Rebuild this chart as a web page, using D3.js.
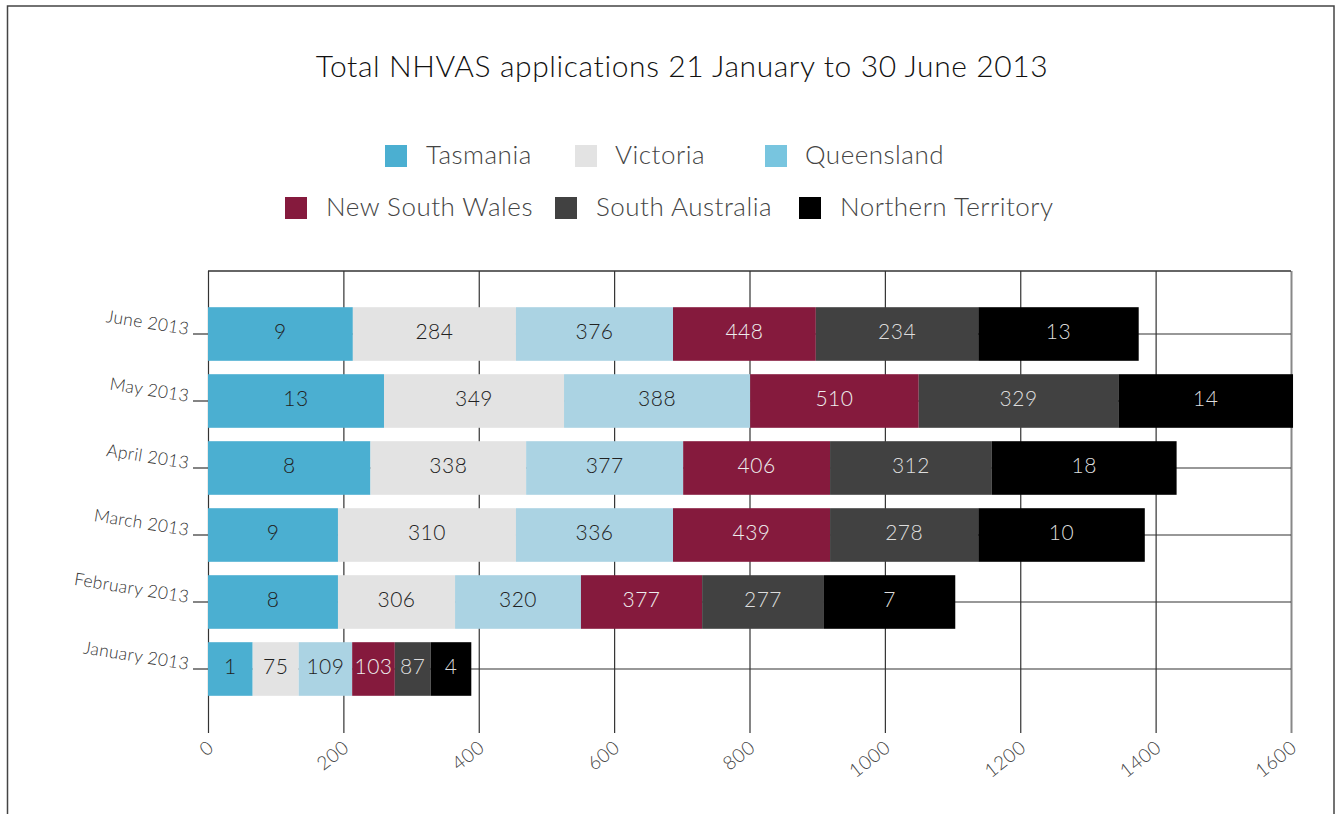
<html>
<head>
    <script src="https://d3js.org/d3.v7.min.js"></script>
    <style>
        body {
            margin: 0;
            background: #fff;
            font-family: Lato, "Open Sans", sans-serif;
        }

        text {
            font-weight: 300;
        }

        .gridlines line {
            stroke: #333;
            stroke-width: 1.2;
        }
    </style>
</head>

<body>
    <svg width="1340" height="814"></svg>
    <script>

        // months from bottom to top
        const months = ["January 2013", "February 2013", "March 2013", "April 2013", "May 2013", "June 2013"];
        const states = ["Tasmania", "Victoria", "Queensland", "New South Wales", "South Australia", "Northern Territory"];

        // segment lengths as drawn on the x axis (Jan -> Jun)
        const tasmaniaLen = [66, 192, 192, 240, 260, 214];
        const victoriaLen = [68, 173, 263, 230, 266, 241];
        const queenslandLen = [79, 186, 232, 232, 275, 232];
        const nswLen = [63, 179, 232, 217, 249, 211];
        const saLen = [53, 180, 219, 239, 295, 240];
        const ntLen = [60, 194, 246, 273, 258, 237];

        // numbers printed inside the segments (Jan -> Jun)
        const tasmaniaLabel = [1, 8, 9, 8, 13, 9];
        const victoriaLabel = [75, 306, 310, 338, 349, 284];
        const queenslandLabel = [109, 320, 336, 377, 388, 376];
        const nswLabel = [103, 377, 439, 406, 510, 448];
        const saLabel = [87, 277, 278, 312, 329, 234];
        const ntLabel = [4, 7, 10, 18, 14, 13];

        const xTicks = [0, 200, 400, 600, 800, 1000, 1200, 1400, 1600];

        const barColors = ["#4BAFD1", "#E3E3E3", "#ABD3E3", "#851A3D", "#414141", "#000000"];
        const legendColors = ["#4BAFD1", "#E3E3E3", "#78C5DF", "#851A3D", "#414141", "#000000"];
        const textColors = ["#222", "#222", "#222", "#eee", "#ddd", "#ddd"];

        const lengths = [tasmaniaLen, victoriaLen, queenslandLen, nswLen, saLen, ntLen];
        const labels = [tasmaniaLabel, victoriaLabel, queenslandLabel, nswLabel, saLabel, ntLabel];

        const svg = d3.select("svg");

        // outer frame
        svg.append("rect")
            .attr("x", 7.5).attr("y", 6).attr("width", 1326.5).attr("height", 830)
            .attr("fill", "none").attr("stroke", "#444").attr("stroke-width", 1.5);

        // title
        svg.append("text")
            .attr("x", 682).attr("y", 77)
            .attr("text-anchor", "middle")
            .style("font-size", "30px").style("letter-spacing", "0.6px").style("fill", "#111")
            .text("Total NHVAS applications 21 January to 30 June 2013");

        // scales
        const xScale = d3.scaleLinear().domain([0, 1600]).range([208, 1291]);
        const yScale = d3.scaleBand()
            .domain(months.slice().reverse())
            .range([300.5, 702.5])
            .paddingInner(0.2)
            .paddingOuter(0.1);

        const chartTop = 271;
        const chartBottom = 733;

        // vertical gridlines
        svg.append("g")
            .attr("class", "gridlines")
            .attr("transform", `translate(0, ${chartTop})`)
            .call(d3.axisBottom(xScale).tickValues(xTicks).tickSize(chartBottom - chartTop).tickFormat(""))
            .call(g => g.select(".domain").remove())
            .call(g => g.selectAll(".tick line").filter(d => d === 1600).style("stroke", "#888").style("stroke-width", 2));

        // top border of plot
        svg.append("line")
            .attr("x1", xScale(0)).attr("x2", xScale(1600))
            .attr("y1", chartTop).attr("y2", chartTop)
            .attr("stroke", "#333").attr("stroke-width", 1.5);

        // horizontal gridlines through each row
        svg.append("g")
            .attr("class", "gridlines")
            .attr("transform", `translate(${xScale(0)}, 0)`)
            .call(d3.axisLeft(yScale).tickSize(15).tickFormat(""))
            .call(g => g.select(".domain").remove())
            .call(g => g.selectAll(".tick line").clone().attr("x1", 0).attr("x2", xScale(1600) - xScale(0)));

        // month labels, slightly tilted
        svg.append("g")
            .selectAll("text")
            .data(months)
            .join("text")
            .attr("transform", d => `translate(188, ${yScale(d) + yScale.bandwidth() / 2 + 1}) rotate(9)`)
            .attr("text-anchor", "end")
            .style("font-size", "17.5px").style("letter-spacing", "0.3px").style("fill", "#333")
            .text(d => d);

        // stack the segments
        const stacked = months.map((m, i) => {
            let x0 = 0;
            return states.map((s, j) => {
                const seg = { month: m, state: j, x0: x0, x1: x0 + lengths[j][i], label: labels[j][i] };
                x0 = seg.x1;
                return seg;
            });
        });

        const rows = svg.append("g")
            .selectAll("g")
            .data(stacked)
            .join("g");

        rows.selectAll("rect")
            .data(d => d)
            .join("rect")
            .attr("x", d => xScale(d.x0))
            .attr("y", d => yScale(d.month))
            .attr("width", d => xScale(d.x1) - xScale(d.x0))
            .attr("height", yScale.bandwidth())
            .attr("fill", d => barColors[d.state]);

        rows.selectAll("text")
            .data(d => d)
            .join("text")
            .attr("x", d => (xScale(d.x0) + xScale(d.x1)) / 2)
            .attr("y", d => yScale(d.month) + yScale.bandwidth() / 2 + 5)
            .attr("text-anchor", "middle")
            .style("font-size", "21px").style("letter-spacing", "0.5px")
            .style("fill", d => textColors[d.state])
            .text(d => d.label);

        // x tick labels
        svg.append("g")
            .selectAll("text")
            .data(xTicks)
            .join("text")
            .attr("transform", d => `translate(${xScale(d) + 7}, 750) rotate(-38)`)
            .attr("text-anchor", "end")
            .style("font-size", "19px").style("letter-spacing", "0.5px").style("fill", "#444")
            .text(d => d);

        // legend
        const legendPos = [
            { x: 385, y: 145, tx: 426 },
            { x: 575, y: 145, tx: 615 },
            { x: 765, y: 145, tx: 805 },
            { x: 285, y: 197, tx: 326 },
            { x: 555, y: 197, tx: 596 },
            { x: 799, y: 197, tx: 840 }
        ];

        const legend = svg.append("g")
            .selectAll("g")
            .data(states)
            .join("g");

        legend.append("rect")
            .attr("x", (d, i) => legendPos[i].x)
            .attr("y", (d, i) => legendPos[i].y)
            .attr("width", 22).attr("height", 22)
            .attr("fill", (d, i) => legendColors[i]);

        legend.append("text")
            .attr("x", (d, i) => legendPos[i].tx)
            .attr("y", (d, i) => legendPos[i].y + 19)
            .style("font-size", "26px").style("letter-spacing", "0.5px").style("fill", "#444")
            .text(d => d);

    </script>
</body>
</html>
